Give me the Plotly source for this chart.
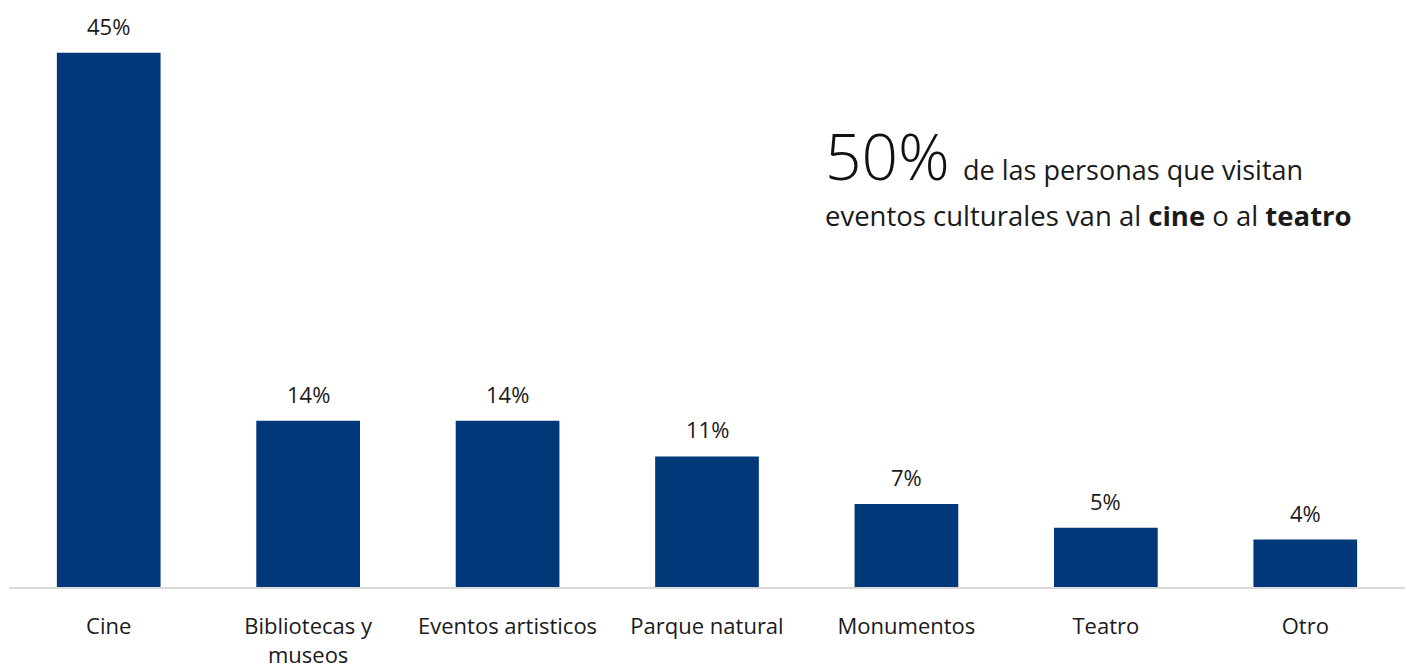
import plotly.graph_objects as go

# --- datos ----------------------------------------------------------
categorias = ["Cine", "Bibliotecas y<br>museos", "Eventos artisticos",
              "Parque natural", "Monumentos", "Teatro", "Otro"]
porcentajes = [45, 14, 14, 11, 7, 5, 4]
etiquetas = [f"{v}%" for v in porcentajes]

AZUL = "#00387a"
FONT = "Open Sans, Noto Sans, sans-serif"

fig = go.Figure()
fig.add_trace(go.Bar(
    x=categorias, y=porcentajes,
    marker=dict(color=AZUL, line=dict(width=0)),
    hoverinfo="skip",
))

# etiquetas de valor encima de cada barra
for cat, val, txt in zip(categorias, porcentajes, etiquetas):
    fig.add_annotation(x=cat, y=val, text=txt, showarrow=False,
                       yanchor="bottom", yshift=10,
                       font=dict(family=FONT, size=22, color="#1a1a1a"))

# texto destacado
fig.add_annotation(xref="paper", yref="paper", x=0.583, y=0.748,
                   xanchor="left", yanchor="middle", showarrow=False,
                   text="50%", font=dict(family=FONT, size=64, color="#111", weight=300))
fig.add_annotation(xref="paper", yref="paper", x=0.682, y=0.724,
                   xanchor="left", yanchor="middle", showarrow=False,
                   text="de las personas que visitan",
                   font=dict(family=FONT, size=27, color="#1a1a1a"))
fig.add_annotation(xref="paper", yref="paper", x=0.583, y=0.644,
                   xanchor="left", yanchor="middle", showarrow=False,
                   text="eventos culturales van al <b>cine</b> o al <b>teatro</b>",
                   font=dict(family=FONT, size=27.5, color="#1a1a1a"))

fig.update_layout(
    width=1407, height=671,
    template="plotly_white",
    paper_bgcolor="white", plot_bgcolor="white",
    margin=dict(l=9, r=2, t=10, b=77),
    bargap=0.48,
    showlegend=False,
    font=dict(family=FONT, size=22, color="#1a1a1a"),
)
fig.update_xaxes(showline=True, linecolor="#d9d9d9", linewidth=2,
                 showgrid=False, ticks="", ticklabelstandoff=19,
                 tickfont=dict(size=22, color="#1a1a1a"))
fig.update_yaxes(visible=False, range=[0, 48.6], showgrid=False, zeroline=False)

# la figura ocupa la ventana exacta: sin margen ni desplazamiento
fig.write_html(
    "out.html",
    config={"displayModeBar": False},
    post_script=(
        "document.body.style.margin='0';"
        "document.body.style.overflow='hidden';"
        "document.documentElement.style.overflow='hidden';"
    ),
)
